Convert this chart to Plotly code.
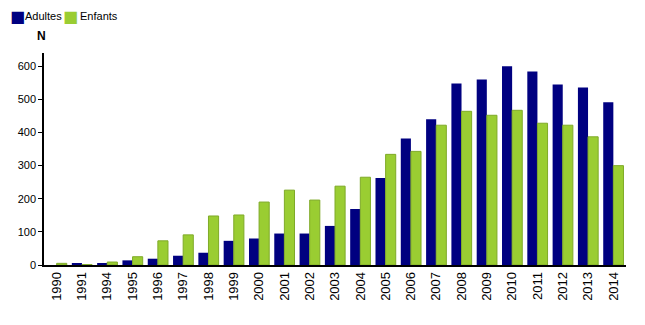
import plotly.graph_objects as go

years = ["1990", "1991", "1994", "1995", "1996", "1997", "1998", "1999", "2000", "2001",
         "2002", "2003", "2004", "2005", "2006", "2007", "2008", "2009", "2010", "2011",
         "2012", "2013", "2014"]
adultes = [0, 5, 5, 14, 19, 28, 37, 73, 80, 95, 95, 118, 169, 263, 382, 440,
           548, 560, 600, 584, 545, 536, 491]
enfants = [5, 1, 9, 25, 73, 91, 148, 151, 190, 226, 196, 238, 265, 334, 343, 422,
           464, 452, 467, 428, 422, 387, 300]
yticks = [0, 100, 200, 300, 400, 500, 600]
series_names = ["Adultes", "Enfants"]
series_colors = ["#000080", "#9ACD32"]

font = "Liberation Sans, Arial, sans-serif"

fig = go.Figure()
fig.add_trace(go.Bar(x=years, y=adultes, name=series_names[0],
                     marker=dict(color=series_colors[0], line=dict(width=0))))
fig.add_trace(go.Bar(x=years, y=enfants, name=series_names[1],
                     marker=dict(color=series_colors[1], line=dict(color="#7FAA28", width=1))))

# compact legend built from text (matching the reference's tight spacing)
legend_items = []
offsets = [(-36, -21), (17, 34)]
for name, color, (sq, tx) in zip(series_names, series_colors, offsets):
    legend_items.append(dict(text="■", xref="paper", yref="paper", x=0, y=1,
                             xanchor="left", yanchor="middle", xshift=sq, yshift=37,
                             showarrow=False,
                             font=dict(size=16, family="DejaVu Sans", color=color)))
    legend_items.append(dict(text=name, xref="paper", yref="paper", x=0, y=1,
                             xanchor="left", yanchor="middle", xshift=tx, yshift=37,
                             showarrow=False,
                             font=dict(size=11, family=font, color="black")))

fig.update_layout(
    width=645, height=325,
    margin=dict(l=44, r=19, t=53, b=60),
    paper_bgcolor="white", plot_bgcolor="white",
    barmode="group", bargap=0.2, bargroupgap=0.0,
    font=dict(family=font, size=11, color="black"),
    showlegend=False,
    annotations=legend_items + [
        dict(text="<b>N</b>", xref="paper", yref="paper", x=0, y=1,
             xanchor="center", yanchor="bottom", xshift=-3, yshift=8,
             showarrow=False, font=dict(size=12, family=font, color="black"))],
)
fig.update_xaxes(type="category", tickangle=-90, showline=True, linecolor="black",
                 linewidth=1.5, ticks="", showgrid=False,
                 tickfont=dict(size=13, family=font))
fig.update_yaxes(range=[0, 640], tickvals=yticks, showline=True, linecolor="black",
                 linewidth=1.5, ticks="outside", ticklen=4, tickcolor="black",
                 showgrid=False, zeroline=False, tickfont=dict(size=11, family=font))

fig.write_html("out.html")
